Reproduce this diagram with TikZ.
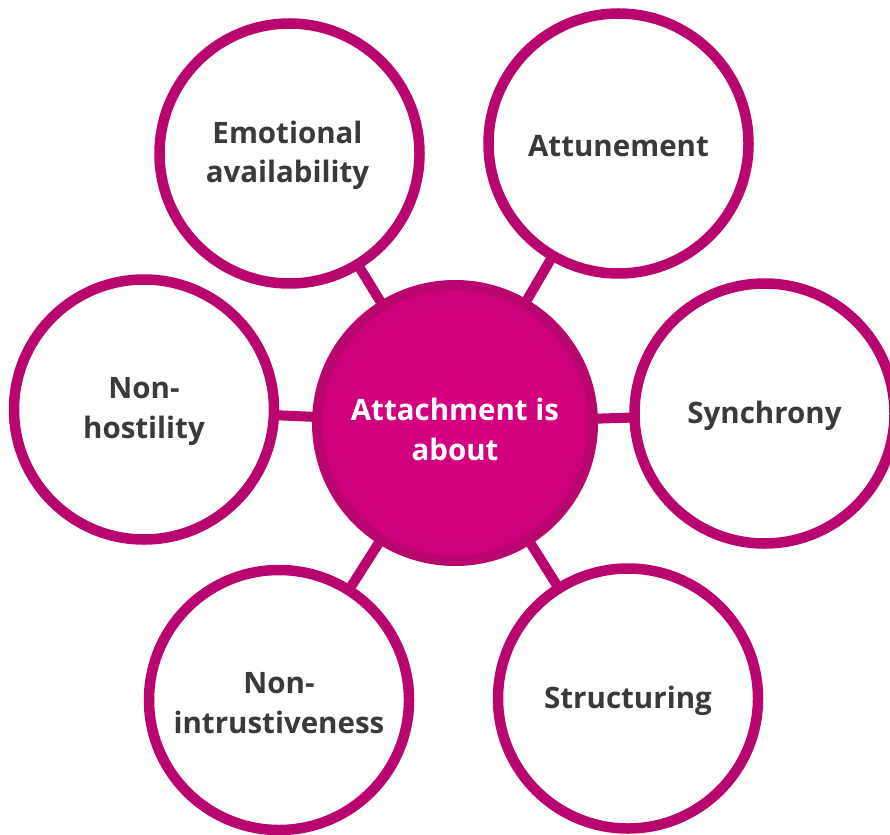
\documentclass[tikz,border=0pt]{standalone}
\usepackage{fontspec}
\setmainfont{Open Sans}
\definecolor{ring}{RGB}{185,5,110}
\definecolor{hub}{RGB}{206,0,124}
\definecolor{hubin}{RGB}{214,0,128}
\definecolor{ink}{RGB}{58,58,58}
\tikzset{
  x=1pt, y=-1pt,
  leaf/.style={circle, draw=ring, line width=10.5pt, fill=white, minimum size=260pt, inner sep=0pt},
  leaftext/.style={align=center, text=ink, inner sep=0pt, font=\fontsize{29.5}{39.5}\selectfont\bfseries},
  hubnode/.style={circle, draw=ring, line width=10pt, inner color=hubin, outer color=hub, minimum size=276pt,
    inner sep=0pt},
  hubtext/.style={align=center, text=white, inner sep=0pt, font=\fontsize{29.5}{40}\selectfont\bfseries},
  conn/.style={draw=ring, line width=10pt}
}
\begin{document}
\begin{tikzpicture}
\useasboundingbox (0,0) rectangle (890,834);
\coordinate (pc) at (455,423);
\coordinate (pe) at (289.5,153.5);
\coordinate (pa) at (618.5,143.5);
\coordinate (ps) at (764.5,413.5);
\coordinate (ph) at (144,409.5);
\coordinate (pn) at (279,700);
\coordinate (pt) at (628,698.5);
\draw[conn] (pc) -- (pe);
\draw[conn] (pc) -- (pa);
\draw[conn] (pc) -- (ps);
\draw[conn] (pc) -- (ph);
\draw[conn] (pc) -- (pn);
\draw[conn] (pc) -- (pt);
\node[hubnode] (c) at (pc) {};
\node[leaf] (e) at (pe) {};
\node[leaf] (a) at (pa) {};
\node[leaf] (s) at (ps) {};
\node[leaf] (h) at (ph) {};
\node[leaf] (n) at (pn) {};
\node[leaf] (t) at (pt) {};
\node[hubtext] (ct) at ([yshift=-6pt]c.center) {Attachment is\\about};
\node[leaftext] (et) at ([yshift=-2pt,xshift=-2pt]e.center) {Emotional\\availability};
\node[leaftext] (at) at ([yshift=-3pt]a.center) {Attunement};
\node[leaftext] (st) at ([yshift=-2pt]s.center) {Synchrony};
\node[leaftext] (ht) at ([yshift=-2pt]h.center) {Non-\\hostility};
\node[leaftext] (nt) at ([yshift=-3pt]n.center) {Non-\\intrustiveness};
\node[leaftext] (tt) at ([yshift=-2pt]t.center) {Structuring};
\end{tikzpicture}
\end{document}
